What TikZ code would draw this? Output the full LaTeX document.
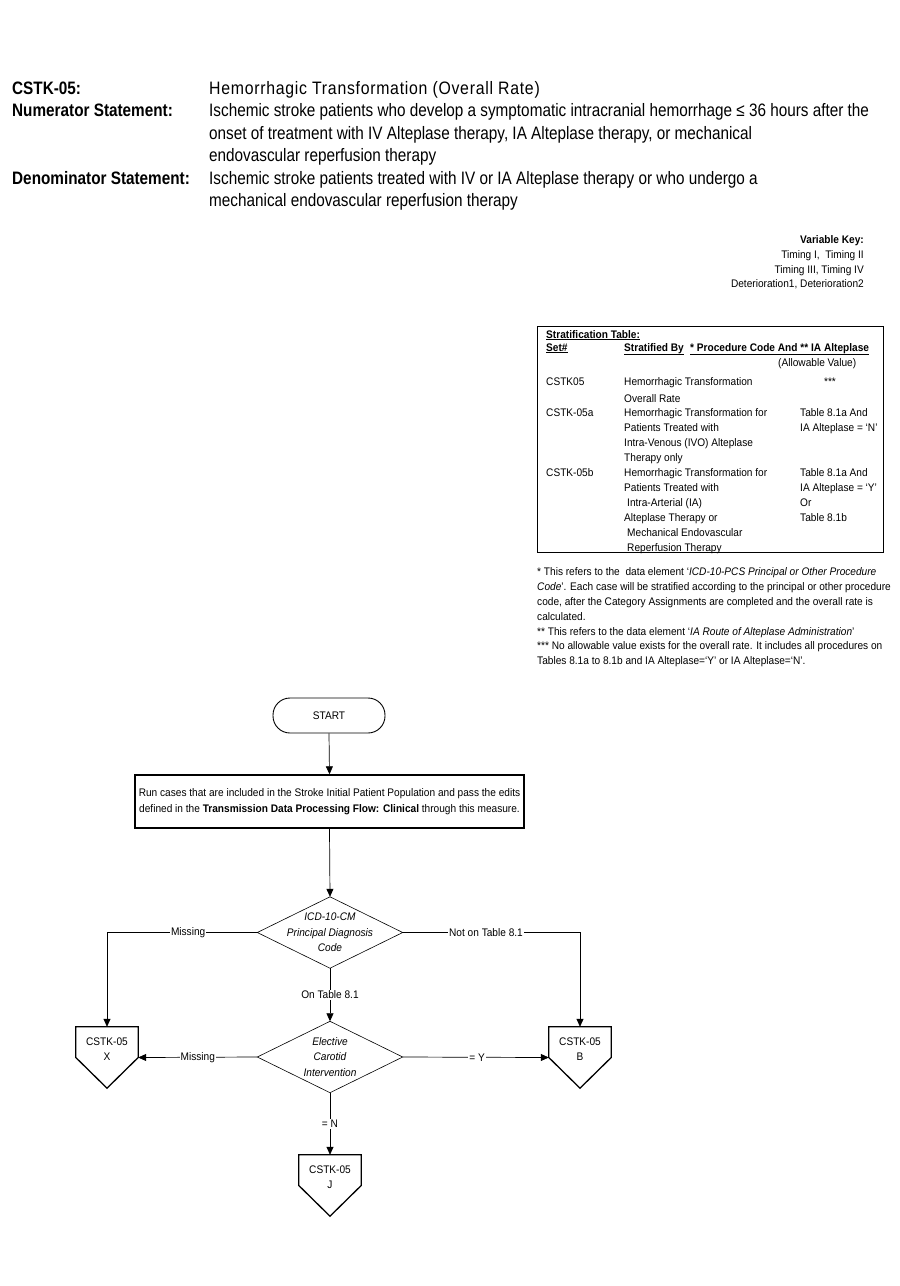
\documentclass[tikz,border=0pt]{standalone}
\usepackage{fontspec}
\setmainfont{Liberation Sans}[FakeStretch=0.85]
\newfontfamily\smfam{Liberation Sans}[FakeStretch=0.92]
\newfontfamily\ttlfam{Liberation Sans}[FakeStretch=0.88,LetterSpace=4]
\usetikzlibrary{arrows.meta,shapes.geometric}
\newcommand{\hdrfont}{\fontsize{18}{22.5}\selectfont}
\newcommand{\smfont}{\smfam\fontsize{11}{15}\selectfont}
\newcommand{\flfont}{\smfam\fontsize{11}{15.5}\selectfont}
\newcommand{\ul}[1]{\underline{#1}}
\begin{document}
\begin{tikzpicture}[x=1pt,y=-1pt,
  txt/.style={anchor=base west,inner sep=0pt},
  rtxt/.style={anchor=base east,inner sep=0pt},
  hdr/.style={txt,font=\hdrfont},
  sm/.style={txt,font=\smfont},
  termbox/.style={draw,rounded corners=17pt,minimum width=112pt,minimum height=35pt,font=\flfont,line width=0.9pt},
  procbox/.style={draw,line width=1.4pt,minimum width=389pt,minimum height=53pt,align=center,font=\flfont,inner sep=2pt},
  decision/.style={minimum width=145pt,minimum height=71pt,inner sep=0pt,align=center,font=\flfont\itshape},
  offpage/.style={minimum width=62pt,minimum height=61pt,inner sep=0pt},
  conn/.style={line width=0.7pt},
  arr/.style={conn,-{Triangle[length=8pt,width=7pt]}},
  lbl/.style={fill=white,inner sep=1pt,font=\flfont},
]
\useasboundingbox (0,0) rectangle (900,1286);

% ---------- header ----------
\node[hdr,font=\hdrfont\bfseries] (h1) at (12,94) {CSTK-05:};
\node[hdr,font=\ttlfam\hdrfont] (h1t) at (209,94) {Hemorrhagic Transformation (Overall Rate)};
\node[hdr,font=\hdrfont\bfseries] (h2) at (12,116) {Numerator Statement:};
\node[hdr] (h2a) at (209,116) {Ischemic stroke patients who develop a symptomatic intracranial hemorrhage ≤ 36 hours after the};
\node[hdr] (h2b) at (209,139) {onset of treatment with IV Alteplase therapy, IA Alteplase therapy, or mechanical};
\node[hdr] (h2c) at (209,161) {endovascular reperfusion therapy};
\node[hdr,font=\hdrfont\bfseries] (h3) at (12,184) {Denominator Statement:};
\node[hdr] (h3a) at (209,184) {Ischemic stroke patients treated with IV or IA Alteplase therapy or who undergo a};
\node[hdr] (h3b) at (209,206) {mechanical endovascular reperfusion therapy};

% ---------- variable key ----------
\node[rtxt,font=\smfont\bfseries] (vk0) at (864,243) {Variable Key:};
\node[rtxt,font=\smfont] (vk1) at (864,258) {Timing I,\ \ Timing II};
\node[rtxt,font=\smfont] (vk2) at (864,273) {Timing III, Timing IV};
\node[rtxt,font=\smfont] (vk3) at (864,287) {Deterioration1, Deterioration2};

% ---------- stratification table ----------
\node[draw,line width=0.8pt,minimum width=346pt,minimum height=226pt,anchor=north west,inner sep=0pt] (tbl) at (537,326) {};
\node[sm,font=\smfont\bfseries] (t0) at (546,338) {\ul{Stratification Table:}};
\node[sm,font=\smfont\bfseries] (t1a) at (546,351) {\ul{Set\#}};
\node[sm,font=\smfont\bfseries] (t1b) at (624,351) {\ul{Stratified By}};
\node[sm,font=\smfont\bfseries] (t1c) at (690,351) {\ul{* Procedure Code And ** IA Alteplase}};
\node[sm] (t2) at (778,366) {(Allowable Value)};
\node[sm] (r1a) at (546,385) {CSTK05};
\node[sm] (r1b) at (624,385) {Hemorrhagic Transformation};
\node[sm,anchor=base] (r1c) at (830,385) {***};
\node[sm] (r1d) at (624,402) {Overall Rate};
\node[sm] (r2a) at (546,416) {CSTK-05a};
\node[sm] (r2b) at (624,416) {Hemorrhagic Transformation for};
\node[sm] (r2c) at (624,431) {Patients Treated with};
\node[sm] (r2d) at (624,446) {Intra-Venous (IVO) Alteplase};
\node[sm] (r2e) at (624,461) {Therapy only};
\node[sm] (r2f) at (800,416) {Table 8.1a And};
\node[sm] (r2g) at (800,431) {IA Alteplase = ‘N’};
\node[sm] (r3a) at (546,476) {CSTK-05b};
\node[sm] (r3b) at (624,476) {Hemorrhagic Transformation for};
\node[sm] (r3c) at (624,491) {Patients Treated with};
\node[sm] (r3d) at (627,506) {Intra-Arterial (IA)};
\node[sm] (r3e) at (624,521) {Alteplase Therapy or};
\node[sm] (r3f) at (627,536) {Mechanical Endovascular};
\node[sm] (r3g) at (627,551) {Reperfusion Therapy};
\node[sm] (r3h) at (800,476) {Table 8.1a And};
\node[sm] (r3i) at (800,491) {IA Alteplase = ‘Y’};
\node[sm] (r3j) at (800,506) {Or};
\node[sm] (r3k) at (800,521) {Table 8.1b};

% ---------- footnotes ----------
\node[sm] (f1) at (537,575) {* This refers to the\ \ data element ‘\textit{ICD-10-PCS Principal or Other Procedure}};
\node[sm] (f2) at (537,590) {\textit{Code}’. Each case will be stratified according to the principal or other procedure};
\node[sm] (f3) at (537,605) {code, after the Category Assignments are completed and the overall rate is};
\node[sm] (f4) at (537,620) {calculated.};
\node[sm] (f5) at (537,635) {** This refers to the data element ‘\textit{IA Route of Alteplase Administration}’};
\node[sm] (f6) at (537,649) {*** No allowable value exists for the overall rate. It includes all procedures on};
\node[sm] (f7) at (537,664) {Tables 8.1a to 8.1b and IA Alteplase=‘Y’ or IA Alteplase=‘N’.};

% ---------- flowchart ----------
\node[termbox] (start) at (329,715.5) {START};
\node[procbox] (proc) at (329.5,801.5) {Run cases that are included in the Stroke Initial Patient Population and pass the edits\\defined in the \textbf{Transmission Data Processing Flow: Clinical} through this measure.};
\node[decision] (d1) at (330,932.5) {ICD-10-CM\\Principal Diagnosis\\Code};
\node[decision] (d2) at (330,1057) {Elective\\Carotid\\Intervention};
\foreach \n in {d1,d2}{
  \draw[line width=0.6pt] (\n.north) -- (\n.east) -- (\n.south) -- (\n.west) -- cycle;
}

\node[offpage] (X) at (107,1057.5) {};
\node[offpage] (B) at (580,1057.5) {};
\node[offpage] (J) at (330,1185.5) {};
\foreach \n in {X,B,J}{
  \draw[line width=1.3pt,line join=miter] (\n.north west) -- (\n.north east) -- (\n.east) -- (\n.south) -- (\n.west) -- cycle;
}
\node[align=center,font=\flfont,inner sep=0pt] (Xt) at ([yshift=8.5pt]X.center) {CSTK-05\\X};
\node[align=center,font=\flfont,inner sep=0pt] (Bt) at ([yshift=8.5pt]B.center) {CSTK-05\\B};
\node[align=center,font=\flfont,inner sep=0pt] (Jt) at ([yshift=8.5pt]J.center) {CSTK-05\\J};

\coordinate (cL) at (X.north |- d1.west);
\coordinate (cR) at (B.north |- d1.east);

\draw[arr] (start.south) -- (proc.north);
\draw[arr] (proc.south) -- (d1.north);
\draw[arr] (d1.west) -- node[lbl,pos=0.46]{Missing} (cL) -- (X.north);
\draw[arr] (d1.east) -- node[lbl,pos=0.47]{Not on Table 8.1} (cR) -- (B.north);
\draw[arr] (d1.south) -- node[lbl]{On Table 8.1} (d2.north);
\draw[arr] (d2.west) -- node[lbl,pos=0.5]{Missing} (X.east);
\draw[arr] (d2.east) -- node[lbl,pos=0.51]{= Y} (B.west);
\draw[arr] (d2.south) -- node[lbl]{= N} (J.north);
\end{tikzpicture}
\end{document}
